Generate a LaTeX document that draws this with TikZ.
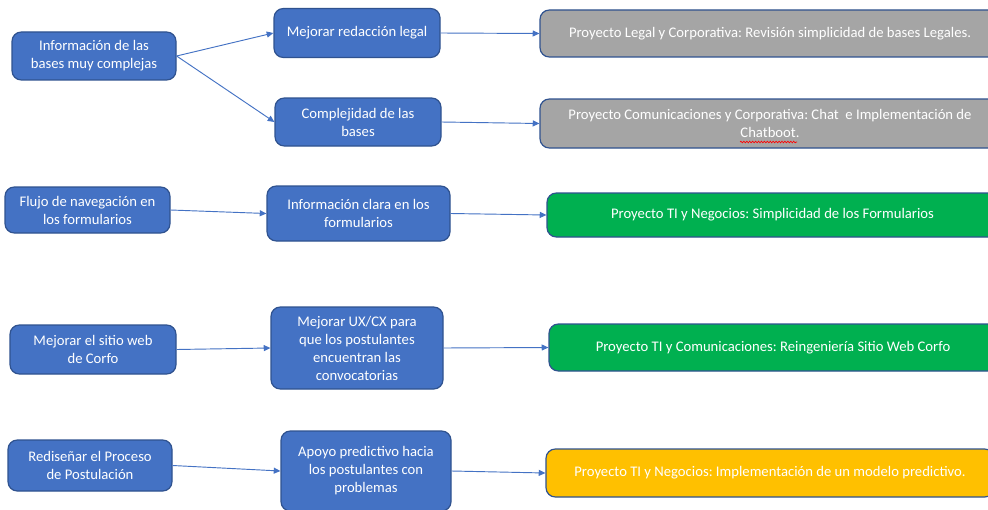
\documentclass[tikz,border=0pt]{standalone}
\usepackage{fontspec}
\setmainfont{Carlito}
\usetikzlibrary{arrows.meta,decorations.pathmorphing}
\definecolor{boxblue}{HTML}{4472C4}
\definecolor{edgeblue}{HTML}{2F528F}
\definecolor{boxgray}{HTML}{A5A5A5}
\definecolor{boxgreen}{HTML}{00B050}
\definecolor{boxyellow}{HTML}{FFC000}
\frenchspacing
\begin{document}
\begin{tikzpicture}[x=0.75pt,y=-0.75pt,
    box/.style={draw=edgeblue, line width=0.9pt, rounded corners=7pt, text=white,
        align=center, inner sep=2pt, font=\fontsize{11}{13.5}\selectfont},
    cause/.style={box, fill=boxblue},
    link/.style={boxblue, line width=0.7pt, -{Triangle[length=5pt,width=4.5pt]}}]
    % Draw page
    \useasboundingbox (0,0) rectangle (988,510);
    \fill[white] (0,0) rectangle (988,510);

    % Draw causes and actions
    \node[cause, minimum width=123pt, minimum height=36pt] (info) at (94,56)
        {Información de las\\bases muy complejas};
    \node[cause, minimum width=124.5pt, minimum height=36.75pt] (legal) at (357,33)
        {Mejorar redacción legal};
    \node[cause, minimum width=124.5pt, minimum height=36pt] (complejidad) at (358,122)
        {Complejidad de las\\bases};
    \node[cause, minimum width=123.75pt, minimum height=34.5pt] (flujo) at (87.5,210)
        {Flujo de navegación en\\los formularios};
    \node[cause, minimum width=137.25pt, minimum height=41.25pt] (infoClara) at (358.5,213.5)
        {Información clara en los\\formularios};
    \node[cause, minimum width=124.5pt, minimum height=36.75pt] (sitioWeb) at (93,349.5)
        {Mejorar el sitio web\\de Corfo};
    \node[cause, minimum width=129pt, minimum height=61.5pt] (uxcx) at (357,348)
        {Mejorar UX/CX para\\que los postulantes\\encuentran las\\convocatorias};
    \node[cause, minimum width=123pt, minimum height=38.25pt] (proceso) at (90,465.5)
        {Rediseñar el Proceso\\de Postulación};
    \node[cause, minimum width=127.5pt, minimum height=60pt] (apoyo) at (366,471)
        {Apoyo predictivo hacia\\los postulantes con\\problemas};

    % Draw projects
    \node[box, fill=boxgray, minimum width=345pt, minimum height=35.25pt] (proyLegal) at (770,33.5)
        {Proyecto Legal y Corporativa: Revisión simplicidad de bases Legales.};
    \node[box, fill=boxgray, minimum width=345pt, minimum height=36.75pt] (proyChat) at (770,123.5)
        {Proyecto Comunicaciones y Corporativa: Chat\ \ e Implementación de\\Chatboot.};
    \node[box, fill=boxgreen, minimum width=338.25pt, minimum height=33pt] (proyFormularios) at (772.5,215)
        {Proyecto TI y Negocios: Simplicidad de los Formularios};
    \node[box, fill=boxgreen, minimum width=336pt, minimum height=35.25pt] (proyWeb) at (773,347.5)
        {Proyecto TI y Comunicaciones: Reingeniería Sitio Web Corfo};
    \node[box, fill=boxyellow, minimum width=336pt, minimum height=36pt] (proyPredictivo) at (770,473)
        {Proyecto TI y Negocios: Implementación de un modelo predictivo.};
    % spell check mark
    \draw[red, line width=0.5pt, decorate, decoration={snake, amplitude=0.6pt, segment length=2.2pt}]
        ([shift={(-30,18.5)}]proyChat.center) -- ++(57,0);

    % Draw arrows
    \draw[link] (info.east) -- (legal.west);
    \draw[link] (info.east) -- (complejidad.west);
    \draw[link] (legal.east) -- (proyLegal.west);
    \draw[link] (complejidad.east) -- (proyChat.west);
    \draw[link] (flujo.east) -- (infoClara.west);
    \draw[link] (infoClara.east) -- (proyFormularios.west);
    \draw[link] (sitioWeb.east) -- (uxcx.west);
    \draw[link] (uxcx.east) -- (proyWeb.west);
    \draw[link] (proceso.east) -- (apoyo.west);
    \draw[link] (apoyo.east) -- (proyPredictivo.west);
\end{tikzpicture}
\end{document}
